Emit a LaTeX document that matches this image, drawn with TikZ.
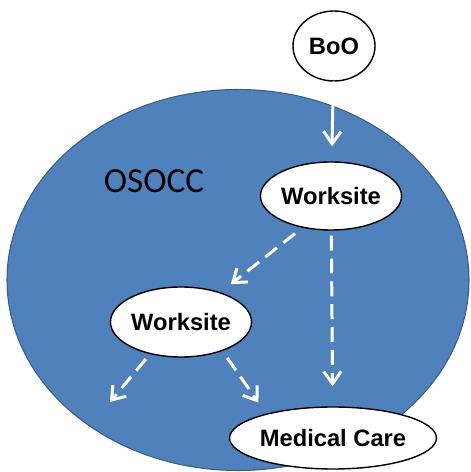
\documentclass[tikz,border=0pt]{standalone}
\usepackage{fontspec}
\setmainfont{Liberation Sans}
\newfontfamily\osoccfont{Carlito}
\usetikzlibrary{arrows.meta}
\definecolor{osoccblue}{HTML}{4F81BD}
\definecolor{osoccline}{HTML}{385D8A}
\tikzset{
  unit/.style={ellipse,draw=black,line width=0.8pt,fill=white,inner sep=0pt,
    font=\fontsize{13.5}{16}\selectfont\bfseries},
  flow/.style={draw=white,line width=1.7pt,-{Straight Barb[length=7pt,width=10pt]}},
  dashflow/.style={flow,dash pattern=on 8.5pt off 4.5pt}
}
\usetikzlibrary{shapes.geometric}
\begin{document}
\begin{tikzpicture}
\useasboundingbox (0,0) rectangle (9.4,9.44);
\draw[osoccline,fill=osoccblue,line width=0.6pt] (4.76,3.84) ellipse (4.62 and 3.81);
\node (O) at (3.08,5.82) {\osoccfont\fontsize{20}{24}\selectfont OSOCC};
\node[unit,minimum width=1.64cm,minimum height=1.4cm] (BoO) at (6.68,8.52) {BoO};
\node[unit,minimum width=2.72cm,minimum height=1.36cm] (W1) at (6.62,5.52) {Worksite};
\node[unit,minimum width=2.76cm,minimum height=1.4cm] (W2) at (3.62,3.0) {Worksite};
\node[unit,minimum width=4.0cm,minimum height=1.24cm] (MC) at (6.66,0.68) {Medical Care};
\coordinate (end) at (2.2,1.4);
\draw[flow,shorten >=0.3cm] (BoO) -- (W1);
\draw[dashflow,shorten <=0.1cm,shorten >=0.4cm] (W1) -- (MC);
\draw[dashflow,shorten <=0.19cm,shorten >=0.26cm] (W1.228) -- (W2.37);
\draw[dashflow,shorten <=0.13cm] (W2.226) -- (end);
\draw[dashflow,shorten <=0.17cm,shorten >=0.27cm] (W2.325) -- (MC.160);
\end{tikzpicture}
\end{document}
